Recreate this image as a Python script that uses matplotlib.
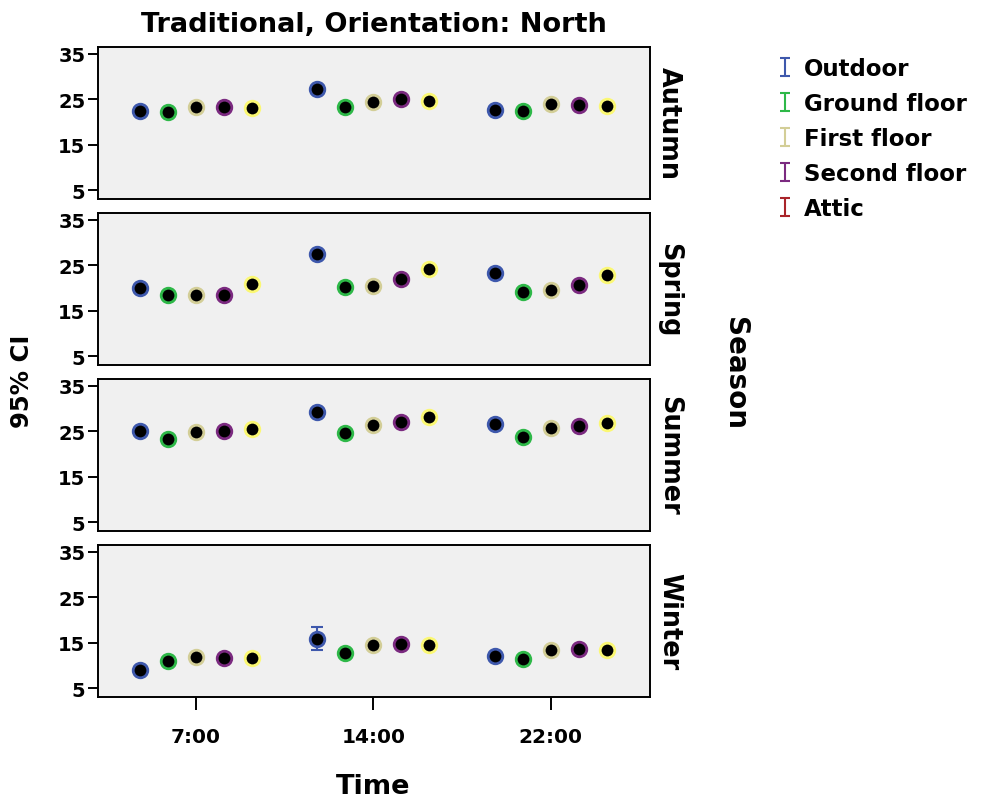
import numpy as np
import matplotlib
matplotlib.use("Agg")
import matplotlib.pyplot as plt
from matplotlib.path import Path
from matplotlib.lines import Line2D

plt.rcParams["font.family"] = "DejaVu Sans"
plt.rcParams["font.weight"] = "bold"

seasons = ["Autumn", "Spring", "Summer", "Winter"]
times = ["7:00", "14:00", "22:00"]
locations = ["Outdoor", "Ground floor", "First floor", "Second floor", "Attic"]

# mean temperature per season: rows = time, cols = location
autumn = [[22.4, 22.2, 23.4, 23.3, 23.1],
          [27.2, 23.3, 24.5, 25.1, 24.7],
          [22.6, 22.5, 24.0, 23.8, 23.6]]
spring = [[20.1, 18.5, 18.5, 18.4, 20.9],
          [27.5, 20.2, 20.4, 22.1, 24.2],
          [23.3, 19.1, 19.6, 20.6, 22.9]]
summer = [[25.1, 23.3, 24.8, 25.0, 25.6],
          [29.2, 24.6, 26.4, 27.1, 28.1],
          [26.7, 23.7, 25.7, 26.2, 26.9]]
winter = [[8.9, 10.9, 11.8, 11.6, 11.6],
          [15.9, 12.8, 14.6, 14.7, 14.5],
          [12.0, 11.5, 13.4, 13.6, 13.5]]
means = [autumn, spring, summer, winter]

# 95% CI half widths (only winter 14:00 outdoor is wider than the marker)
ci_small = 0.5
ci_winter_out_14 = 2.5

edge_colors = ["#3e58ac", "#2eb848", "#d3ce97", "#7b2a80", "#fbf873"]
legend_colors = ["#3e58ac", "#2eb848", "#d3ce97", "#7b2a80", "#a9242a"]

fig, axes = plt.subplots(4, 1, figsize=(9.89, 8.03), dpi=100, sharex=True)
fig.subplots_adjust(left=0.0991, right=0.657, top=0.9406, bottom=0.131, hspace=0.09)

x_base = np.arange(len(times))
offsets = (np.arange(len(locations)) - 2) * 0.158

for ax, season, m in zip(axes, seasons, means):
    m = np.array(m)
    ax.set_facecolor("#f0f0f0")
    for j, loc in enumerate(locations):
        err = np.full(len(times), ci_small)
        if season == "Winter" and j == 0:
            err[1] = ci_winter_out_14
        ax.errorbar(x_base + offsets[j], m[:, j], yerr=err, fmt="none",
                    ecolor=edge_colors[j], elinewidth=1.5, capsize=4, capthick=1.5, zorder=2)
        ax.plot(x_base + offsets[j], m[:, j], linestyle="none", marker="o",
                markersize=10.5, markerfacecolor="black",
                markeredgecolor=edge_colors[j], markeredgewidth=2, zorder=3)
    ax.set_ylim(3.1, 36.6)
    ax.set_yticks([5, 15, 25, 35])
    ax.set_xlim(-0.552, 2.558)
    for sp in ax.spines.values():
        sp.set_linewidth(1.4)
    ax.tick_params(axis="y", length=7.5, width=1.4, labelsize=14, pad=1.5)
    ax.tick_params(axis="x", length=9, width=1.4, labelsize=14.5, pad=13)
    ax.text(1.035, 0.5, season, transform=ax.transAxes, rotation=-90,
            ha="center", va="center", fontsize=18.4, fontweight="bold")

axes[-1].set_xticks(x_base)
axes[-1].set_xticklabels(times)
for ax in axes[:-1]:
    ax.tick_params(axis="x", length=0)

axes[0].set_title("Traditional, Orientation: North", fontsize=19.6,
                  fontweight="bold", pad=11)
fig.text(0.377, 0.02, "Time", ha="center", va="center", fontsize=19.5, fontweight="bold")
fig.text(0.022, 0.525, "95% CI", rotation=90, ha="center", va="center",
         fontsize=17.5, fontweight="bold")
fig.text(0.743, 0.535, "Season", rotation=-90, ha="center", va="center",
         fontsize=20, fontweight="bold")

ibeam = Path([(-0.5, -1), (0.5, -1), (0, -1), (0, 1), (-0.5, 1), (0.5, 1)],
             [Path.MOVETO, Path.LINETO, Path.MOVETO, Path.LINETO, Path.MOVETO, Path.LINETO])
handles = [Line2D([], [], linestyle="none", marker=ibeam, markersize=13,
                  markerfacecolor="none", markeredgecolor=c, markeredgewidth=1.5)
           for c in legend_colors]
fig.legend(handles, locations, loc="upper left", bbox_to_anchor=(0.775, 0.939),
           frameon=False, fontsize=16.5, handlelength=0.8, handletextpad=0.45,
           labelspacing=0.52, borderaxespad=0)

fig.savefig("out.png", dpi=100)
